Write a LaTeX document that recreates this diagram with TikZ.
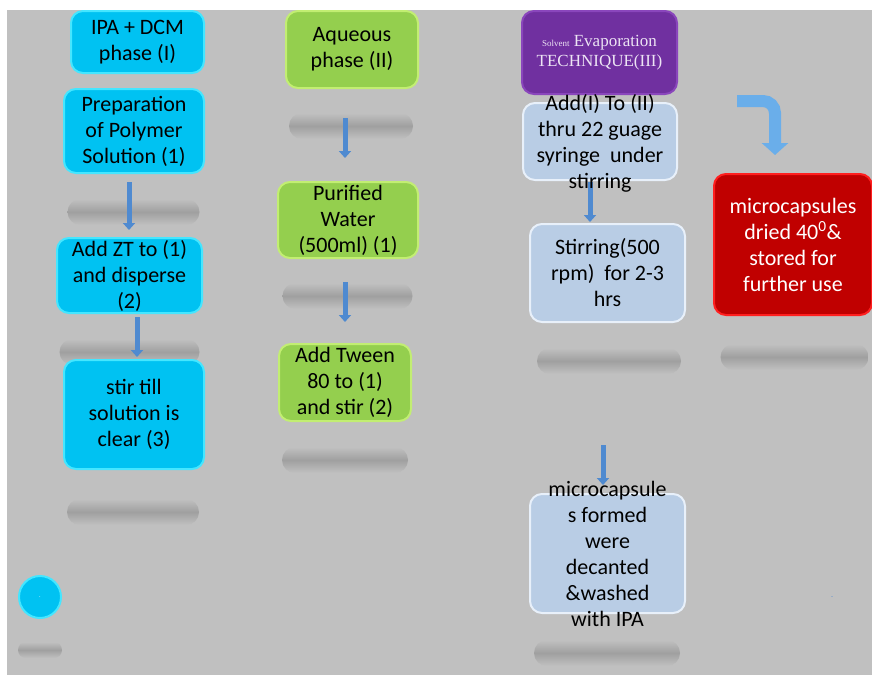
\documentclass[tikz,border=0pt]{standalone}
\usepackage{fontspec}
\setmainfont{Carlito}
\newfontfamily\timesfont{Liberation Serif}
\usetikzlibrary{positioning,arrows.meta}
\definecolor{bggrey}{HTML}{C0C0C0}
\definecolor{shadowgrey}{HTML}{A0A0A0}
\definecolor{cyanfill}{HTML}{00C2F2}
\definecolor{cyanedge}{HTML}{45E6FF}
\definecolor{greenfill}{HTML}{94CF4E}
\definecolor{greenedge}{HTML}{C2EE72}
\definecolor{purplefill}{HTML}{7030A0}
\definecolor{purpleedge}{HTML}{8A46BC}
\definecolor{purpletext}{HTML}{EDE4F4}
\definecolor{paleblue}{HTML}{B9CDE5}
\definecolor{paleedge}{HTML}{E8F0FA}
\definecolor{redfill}{HTML}{C00000}
\definecolor{rededge}{HTML}{FF1F1F}
\definecolor{arrowblue}{HTML}{4F8AD0}
\definecolor{bendblue}{HTML}{6AAEEA}

\begin{document}
\begin{tikzpicture}[
  x=1pt, y=-1pt,
  font=\fontsize{22}{26}\selectfont,
  flowbox/.style={rectangle,rounded corners=12pt,line width=2pt,outer sep=0pt,align=center,inner sep=1pt},
  cyanbox/.style={flowbox,draw=cyanedge,fill=cyanfill},
  greenbox/.style={flowbox,draw=greenedge,fill=greenfill},
  purplebox/.style={flowbox,draw=purpleedge,fill=purplefill,text=purpletext,font=\timesfont\fontsize{17}{20}\selectfont},
  palebox/.style={flowbox,draw=paleedge,fill=paleblue},
  redbox/.style={flowbox,draw=rededge,fill=redfill,text=white},
  flowarrow/.style={arrowblue,line width=5pt,-{Triangle[width=12pt,length=7pt]}},
  bentarrow/.style={bendblue,line width=12pt,-{Triangle[width=26pt,length=12pt]}},
  blurbar/.style={top color=bggrey,bottom color=bggrey,middle color=shadowgrey}
]
\useasboundingbox (0,0) rectangle (872,675);
\fill[white] (0,0) rectangle (872,675);
\fill[bggrey] (7,10) rectangle (872,675);

% blurred shadows
\foreach \cx/\cy/\hw/\hh in {133.5/212/66/13, 129.5/352/70/13, 133/512/66/13, 40/650/22/8,
    351/126/62/13, 347.5/296/65/13, 345/460/63/13, 609/361/72/13, 607/653/73/13, 794.5/357/74/13}
  \shade[blurbar,rounded corners=\hh pt] ({\cx-\hw},{\cy-\hh}) rectangle ({\cx+\hw},{\cy+\hh});

% phase I
\node[cyanbox,minimum width=133pt,minimum height=62pt] (ipa) at (137.5,42) {IPA + DCM\\phase (I)};
\node[cyanbox,minimum width=140pt,minimum height=84pt,below=16pt of ipa,xshift=-3.5pt] (prep) {Preparation\\of Polymer\\Solution (1)};
\node[cyanbox,minimum width=145pt,minimum height=75pt,below=65pt of prep,xshift=-4.5pt] (addzt) {Add ZT to (1)\\and disperse\\(2)};
\node[cyanbox,minimum width=140pt,minimum height=109pt,below=47pt of addzt,xshift=4.5pt] (stir) {stir till\\solution is\\clear (3)};
\node[cyanbox,circle,minimum size=42pt,inner sep=0pt,text=white,font=\fontsize{6}{6}\selectfont] (blob) at (40,597) {.};

% phase II
\node[greenbox,minimum width=132pt,minimum height=77pt] (aq) at (352,49.5) {Aqueous\\phase (II)};
\node[greenbox,minimum width=140pt,minimum height=76pt,below=94pt of aq,xshift=-4pt] (pw) {Purified\\Water\\(500ml) (1)};
\node[greenbox,minimum width=132pt,minimum height=77pt,below=86pt of pw,xshift=-3pt] (tween) {Add Tween\\80 to (1)\\and stir (2)};

% phase III
\node[purplebox,minimum width=155pt,minimum height=83pt] (evap) at (599.5,52.5) {{\fontsize{9}{9}\selectfont Solvent} Evaporation\\TECHNIQUE(III)};
\node[palebox,minimum width=154pt,minimum height=77pt,below=9pt of evap,xshift=0.5pt] (syr) {};
\node[palebox,minimum width=155pt,minimum height=98pt,below=44pt of syr,xshift=7.5pt] (stirring) {Stirring(500\\rpm)\ \ for 2-3\\hrs};
\node[palebox,minimum width=155pt,minimum height=119pt,below=172pt of stirring] (decant) {};

% drying
\node[redbox,minimum width=158pt,minimum height=141pt] (dry) at (793,244.5) {microcapsules\\dried 40\textsuperscript{0}\&\\stored for\\further use};
\node[text=arrowblue,font=\fontsize{8}{8}\selectfont] (endmark) at (832,597) {.};

\path ([xshift=-5pt,yshift=-9pt]prep.south) edge[flowarrow] ([xshift=-0.5pt,yshift=8pt]addzt.north)
([xshift=7.5pt,yshift=-4pt]addzt.south) edge[flowarrow] ([xshift=3pt,yshift=3pt]stir.north)
([xshift=-7pt,yshift=-30pt]aq.south) edge[flowarrow] ([xshift=-3pt,yshift=24pt]pw.north)
([xshift=-3pt,yshift=-24pt]pw.south) edge[flowarrow] ([yshift=22pt]tween.north)
([xshift=-10pt,yshift=-2pt]syr.south) edge[flowarrow] ([xshift=-17.5pt,yshift=2pt]stirring.north)
([xshift=-4.5pt,yshift=-123pt]stirring.south) edge[flowarrow] ([xshift=-4.5pt,yshift=9pt]decant.north);

\coordinate (bendtail) at (737,101);
\draw[bentarrow] (bendtail) [rounded corners=12pt] -| ([xshift=-18pt,yshift=19pt]dry.north);

% text spilling over the boxes
\node[align=center] (syrtext) at ([yshift=-1.5pt]syr) {Add(I) To (II)\\thru 22 guage\\syringe\ \ under\\stirring};
\node[align=center] (decanttext) at (decant) {microcapsule\\s formed\\were\\decanted\\\&washed\\with IPA};
\end{tikzpicture}
\end{document}
